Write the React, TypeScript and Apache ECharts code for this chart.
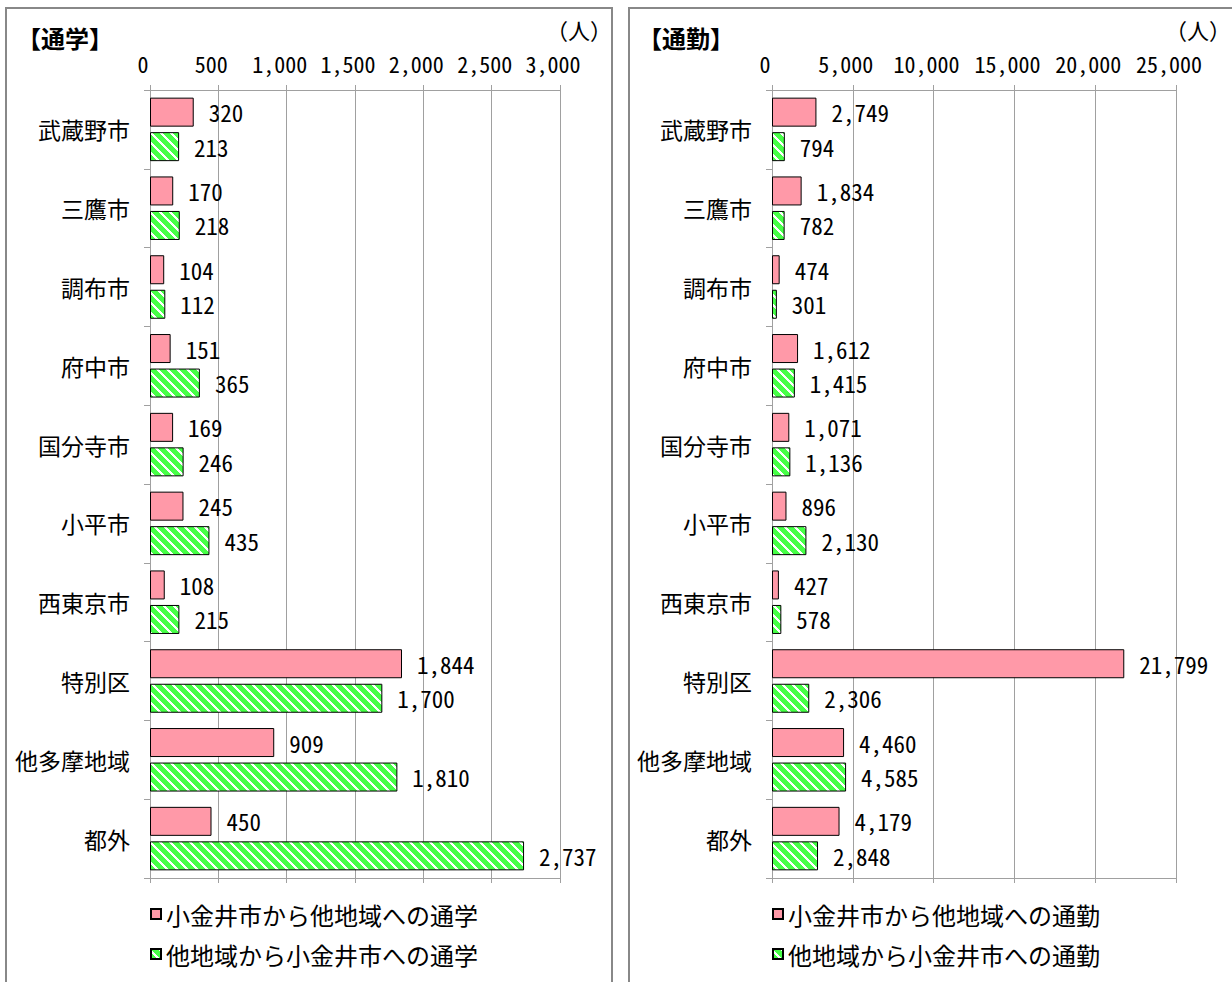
import React, { useEffect, useRef } from 'react';
import * as echarts from 'echarts';

const categories = ['武蔵野市', '三鷹市', '調布市', '府中市', '国分寺市', '小平市', '西東京市', '特別区', '他多摩地域', '都外'];
const schoolOut = [320, 170, 104, 151, 169, 245, 108, 1844, 909, 450];
const schoolIn = [213, 218, 112, 365, 246, 435, 215, 1700, 1810, 2737];
const workOut = [2749, 1834, 474, 1612, 1071, 896, 427, 21799, 4460, 4179];
const workIn = [794, 782, 301, 1415, 1136, 2130, 578, 2306, 4585, 2848];

const schoolOutName = '小金井市から他地域への通学';
const schoolInName = '他地域から小金井市への通学';
const workOutName = '小金井市から他地域への通勤';
const workInName = '他地域から小金井市への通勤';

const schoolMax = 3000;
const schoolInterval = 500;
const workMax = 25000;
const workInterval = 5000;

const CJK = "'Noto Sans CJK JP', 'Noto Sans', sans-serif";
const MONO = "'Noto Sans Mono CJK JP', 'Noto Sans CJK JP', 'DejaVu Sans Mono', monospace";
const PINK = '#FF99A8';
const GREEN = '#47FF47';
const GRID_GRAY = '#A0A0A0';

const fmt = (v: number) => Number(v).toLocaleString('en-US');

function makeStripe() {
  const c = document.createElement('canvas');
  c.width = 10;
  c.height = 10;
  const ctx = c.getContext('2d')!;
  ctx.fillStyle = '#ffffff';
  ctx.fillRect(0, 0, 10, 10);
  ctx.fillStyle = GREEN;
  for (let y = 0; y < 10; y++) {
    for (let x = 0; x < 10; x++) {
      const d = (((x - y) % 10) + 10) % 10;
      if (d < 7) ctx.fillRect(x, y, 1, 1);
    }
  }
  return c;
}

export default function App() {
  const ref = useRef<HTMLDivElement>(null);
  useEffect(() => {
    if (!ref.current) return;
    const chart = echarts.init(ref.current, undefined, { renderer: 'svg' });
    const stripe = makeStripe();
    const pattern: any = { image: stripe, repeat: 'repeat', imageWidth: 10, imageHeight: 10 };

    const grids = [
      { left: 150, top: 90, width: 410, height: 788 },
      { left: 772, top: 90, width: 404, height: 788 },
    ];

    const valueAxes = (gi: number, max: number, interval: number) => [
      {
        type: 'value', gridIndex: gi, position: 'top', min: 0, max, interval,
        axisLine: { show: true, lineStyle: { color: GRID_GRAY } },
        axisTick: { show: true, length: 5, lineStyle: { color: GRID_GRAY } },
        splitLine: { show: true, lineStyle: { color: GRID_GRAY, width: 1 } },
        axisLabel: {
          formatter: (v: number) => fmt(v), fontFamily: MONO, fontSize: 22, color: '#000',
          margin: 16, padding: [0, 14, 0, 0],
        },
      },
      {
        type: 'value', gridIndex: gi, position: 'bottom', min: 0, max, interval,
        axisLine: { show: true, lineStyle: { color: GRID_GRAY } },
        axisTick: { show: true, length: 5, lineStyle: { color: GRID_GRAY } },
        splitLine: { show: false },
        axisLabel: { show: false },
      },
    ];

    const catAxis = (gi: number) => ({
      type: 'category', gridIndex: gi, data: categories, inverse: true,
      axisLine: { show: true, lineStyle: { color: GRID_GRAY } },
      axisTick: { show: true, length: 6, lineStyle: { color: GRID_GRAY } },
      axisLabel: { fontFamily: CJK, fontSize: 23, color: '#000', margin: 20 },
      splitLine: { show: false },
    });

    const label = {
      show: true, position: 'right', distance: 15,
      formatter: (p: any) => fmt(p.value), fontFamily: MONO, fontSize: 23, color: '#000',
    };

    const bar = (name: string, data: number[], xi: number, yi: number, striped: boolean) => ({
      type: 'bar', name, data, xAxisIndex: xi, yAxisIndex: yi,
      barWidth: 29, barGap: '19%',
      itemStyle: { color: striped ? pattern : PINK, borderColor: '#000', borderWidth: 1 },
      label,
      emphasis: { disabled: true },
    });

    const legend = (left: number, names: string[]) => ({
      left, top: 902, orient: 'vertical', itemWidth: 10, itemHeight: 10, itemGap: 16, padding: 0,
      icon: 'rect', selectedMode: false, data: names,
      textStyle: { fontFamily: CJK, fontSize: 24, color: '#000', lineHeight: 24 },
    });

    chart.setOption({
      animation: false,
      backgroundColor: '#ffffff',
      grid: grids,
      xAxis: [...valueAxes(0, schoolMax, schoolInterval), ...valueAxes(1, workMax, workInterval)],
      yAxis: [catAxis(0), catAxis(1)],
      legend: [legend(150, [schoolOutName, schoolInName]), legend(772, [workOutName, workInName])],
      series: [
        bar(schoolOutName, schoolOut, 0, 0, false),
        bar(schoolInName, schoolIn, 0, 0, true),
        bar(workOutName, workOut, 2, 1, false),
        bar(workInName, workIn, 2, 1, true),
      ],
      graphic: [
        { type: 'rect', shape: { x: 6, y: 8, width: 606, height: 1000 }, style: { fill: 'none', stroke: '#888888', lineWidth: 2 }, silent: true },
        { type: 'rect', shape: { x: 629, y: 8, width: 700, height: 1000 }, style: { fill: 'none', stroke: '#888888', lineWidth: 2 }, silent: true },
        { type: 'text', x: 17, y: 37, style: { text: '【通学】', fontFamily: CJK, fontSize: 24, fontWeight: 'bold', fill: '#000', textVerticalAlign: 'middle' } },
        { type: 'text', x: 638, y: 37, style: { text: '【通勤】', fontFamily: CJK, fontSize: 24, fontWeight: 'bold', fill: '#000', textVerticalAlign: 'middle' } },
        { type: 'text', x: 612, y: 29, style: { text: '（人）', fontFamily: CJK, fontSize: 22, fill: '#000', textAlign: 'right', textVerticalAlign: 'middle' } },
        { type: 'text', x: 1231, y: 29, style: { text: '（人）', fontFamily: CJK, fontSize: 22, fill: '#000', textAlign: 'right', textVerticalAlign: 'middle' } },
      ],
    });
    return () => chart.dispose();
  }, []);
  return (
    <div
      ref={ref}
      style={{ position: 'fixed', left: 0, top: 0, width: 1232, height: 982, background: '#fff' }}
    />
  );
}
